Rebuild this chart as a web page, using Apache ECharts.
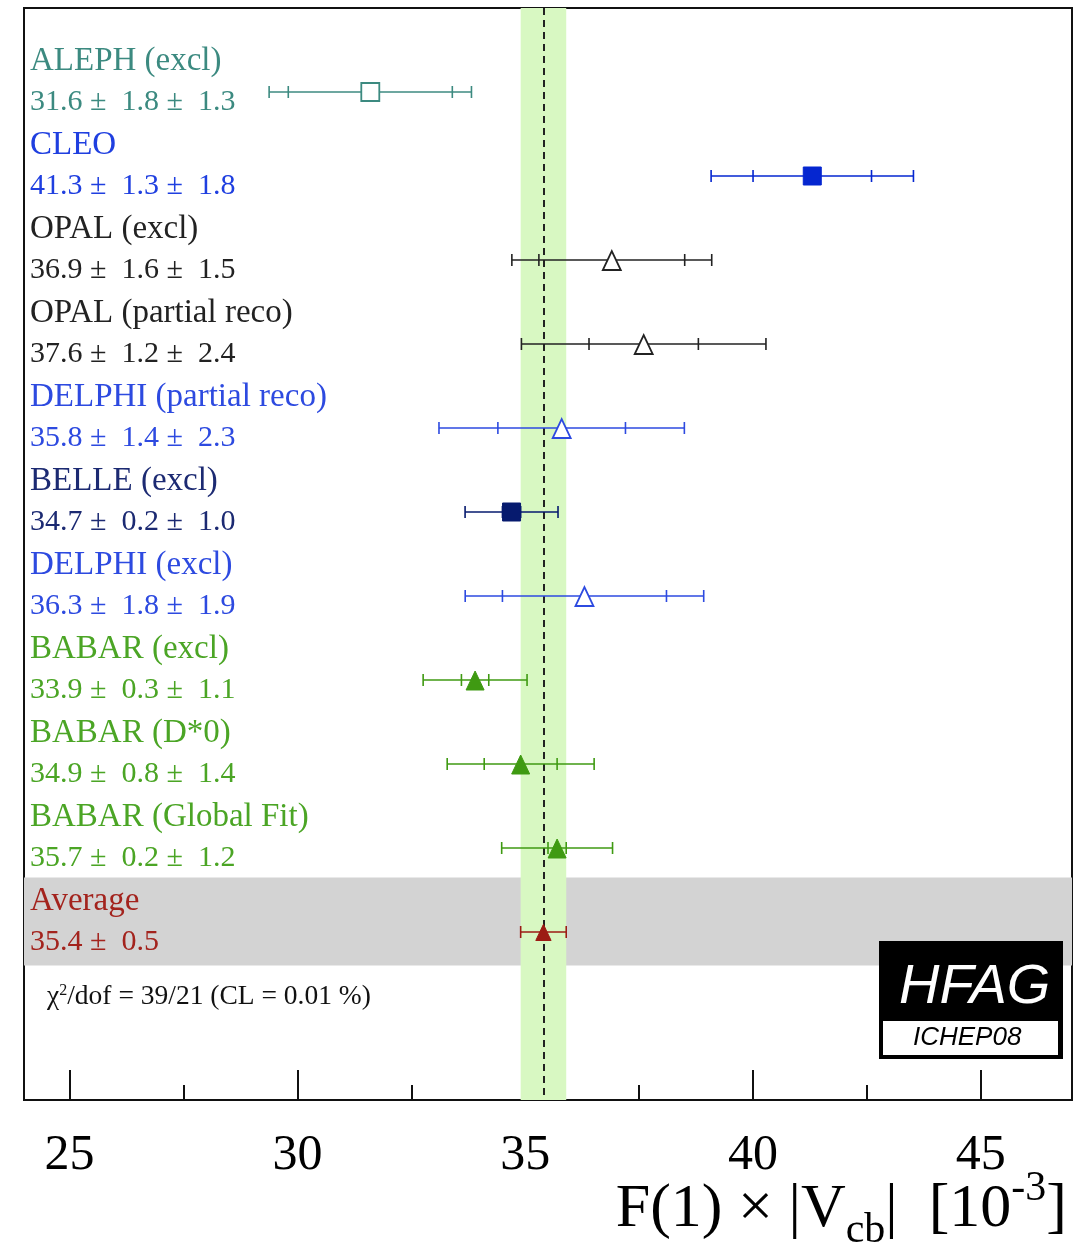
<!DOCTYPE html>
<html lang="en">
<head>
    <meta charset="UTF-8">
    <title>F(1)|Vcb|</title>
    <script src="https://cdn.jsdelivr.net/npm/echarts@6.0.0/dist/echarts.min.js"></script>
</head>
<body style="margin:0">
<div id="main" style="width: 1083px;height:1250px;"></div>
<script type="text/javascript">
    // measurements, top to bottom
    const names = ["ALEPH (excl)", "CLEO", "OPAL (excl)", "OPAL (partial reco)", "DELPHI (partial reco)",
        "BELLE (excl)", "DELPHI (excl)", "BABAR (excl)", "BABAR (D*0)", "BABAR (Global Fit)", "Average"];
    const values = [31.6, 41.3, 36.9, 37.6, 35.8, 34.7, 36.3, 33.9, 34.9, 35.7, 35.4];
    const statErr = [1.8, 1.3, 1.6, 1.2, 1.4, 0.2, 1.8, 0.3, 0.8, 0.2, 0.5];
    const systErr = [1.3, 1.8, 1.5, 2.4, 2.3, 1.0, 1.9, 1.1, 1.4, 1.2, 0];
    const xTicks = [25, 30, 35, 40, 45];
    const xMinorTicks = [27.5, 32.5, 37.5, 42.5];

    // styles per row
    const textColors = ["#3c8a80", "#1f3fe0", "#222222", "#222222", "#2d4ae0", "#1c2a72",
        "#2d4ae0", "#4ba525", "#4ba525", "#4ba525", "#a3231d"];
    const markColors = ["#3c8a80", "#0526d0", "#222222", "#222222", "#2d4ae0", "#061a6e",
        "#2d4ae0", "#3f9a12", "#3f9a12", "#3f9a12", "#9c1c14"];
    const markKinds = ["sqOpen", "sq", "triOpen", "triOpen", "triOpen", "sq", "triOpen", "tri", "tri", "tri", "tri"];

    const avgIdx = names.length - 1;
    const avg = values[avgIdx], avgErr = statErr[avgIdx];

    const rows = values.map(function (v, i) {
        return [v, i, statErr[i], systErr[i]];
    });

    function labelText(i) {
        if (i === avgIdx) return values[i].toFixed(1) + " \u00b1  " + statErr[i].toFixed(1);
        return values[i].toFixed(1) + " \u00b1  " + statErr[i].toFixed(1) + " \u00b1  " + systErr[i].toFixed(1);
    }

    function renderRow(params, api) {
        const i = params.dataIndex;
        const v = api.value(0), row = api.value(1), st = api.value(2), sy = api.value(3);
        const tot = Math.sqrt(st * st + sy * sy);
        const c = api.coord([v, row]);
        const lo = api.coord([v - tot, row]);
        const hi = api.coord([v + tot, row]);
        const col = markColors[i];
        const ls = {stroke: col, lineWidth: 1.6};
        const kids = [];
        kids.push({type: "line", shape: {x1: lo[0], y1: c[1], x2: hi[0], y2: c[1]}, style: ls});
        [lo[0], hi[0]].forEach(function (x) {
            kids.push({type: "line", shape: {x1: x, y1: c[1] - 6, x2: x, y2: c[1] + 6}, style: ls});
        });
        if (sy > 0) {
            [api.coord([v - st, row])[0], api.coord([v + st, row])[0]].forEach(function (x) {
                kids.push({type: "line", shape: {x1: x, y1: c[1] - 6, x2: x, y2: c[1] + 6}, style: ls});
            });
        }
        const k = markKinds[i];
        const open = k.indexOf("Open") > 0;
        const mstyle = {fill: open ? "#fff" : col, stroke: col, lineWidth: open ? 1.8 : 1};
        if (k.indexOf("sq") === 0) {
            kids.push({type: "rect", shape: {x: c[0] - 9, y: c[1] - 9, width: 18, height: 18}, style: mstyle});
        } else {
            const s = i === avgIdx ? 0.85 : 1;
            kids.push({type: "polygon", shape: {points: [[c[0] - 9 * s, c[1] + 10 * s], [c[0] + 9 * s, c[1] + 10 * s], [c[0], c[1] - 9 * s]]}, style: mstyle});
        }
        const left = api.coord([24, row])[0] + 6;
        const font = {fontFamily: "Liberation Serif", fill: textColors[i], align: "left", verticalAlign: "middle"};
        kids.push({type: "text", style: Object.assign({x: left, y: c[1] - 31, text: names[i], fontSize: 33}, font)});
        kids.push({type: "text", style: Object.assign({x: left, y: c[1] + 10, text: labelText(i), fontSize: 30}, font)});
        return {type: "group", children: kids};
    }

    const myChart = echarts.init(document.getElementById("main"));
    myChart.setOption({
        animation: false,
        backgroundColor: "#fff",
        grid: {left: 24, right: 11, top: 8, bottom: 150, show: true, borderColor: "#111", borderWidth: 2, backgroundColor: "transparent"},
        xAxis: [
            {
                type: "value", min: 24, max: 47, position: "bottom", splitLine: {show: false},
                axisLine: {show: true, onZero: false, lineStyle: {color: "#111", width: 2}},
                axisTick: {show: true, inside: true, length: 30, customValues: xTicks, lineStyle: {color: "#111", width: 2}},
                axisLabel: {customValues: xTicks, fontFamily: "Liberation Serif", fontSize: 50, color: "#000", margin: 31}
            },
            {
                type: "value", min: 24, max: 47, position: "bottom", offset: 0, splitLine: {show: false},
                axisLine: {show: false, onZero: false}, axisLabel: {show: false},
                axisTick: {show: true, inside: true, length: 15, customValues: xMinorTicks, lineStyle: {color: "#111", width: 2}}
            }
        ],
        yAxis: {type: "value", min: -1, max: 12, inverse: true, show: false, splitLine: {show: false}},
        series: [
            {
                type: "line", data: [], z: 1, silent: true,
                markArea: {silent: true, itemStyle: {color: "#d3d3d3"}, data: [[{yAxis: 9.35}, {yAxis: 10.4}]]}
            },
            {
                type: "line", data: [], z: 2, silent: true,
                markArea: {silent: true, itemStyle: {color: "#d8f8c2"}, data: [[{xAxis: avg - avgErr}, {xAxis: avg + avgErr}]]},
                markLine: {silent: true, symbol: "none", label: {show: false},
                    lineStyle: {color: "#222", width: 2, type: [7, 5]}, data: [{xAxis: avg}]}
            },
            {
                type: "custom", z: 5, renderItem: renderRow, data: rows, clip: false
            }
        ],
        graphic: [
            {
                type: "text", left: 47, top: 983, z: 100,
                style: {
                    text: "\u03c7{s|2}/dof = 39/21 (CL = 0.01 %)",
                    fontFamily: "Liberation Serif", fontSize: 27.5, fill: "#111",
                    rich: {s: {fontFamily: "Liberation Serif", fontSize: 16, verticalAlign: "top", lineHeight: 14}}
                }
            },
            {type: "rect", left: 879, top: 941, z: 100, shape: {width: 184, height: 118}, style: {fill: "#000"}},
            {type: "rect", left: 883, top: 1021, z: 101, shape: {width: 175, height: 34}, style: {fill: "#fff"}},
            {
                type: "text", left: 899, top: 959, z: 102,
                style: {text: "HFAG", fill: "#fff", fontFamily: "Liberation Sans", fontStyle: "italic", fontSize: 56}
            },
            {
                type: "text", left: 913, top: 1025, z: 102,
                style: {text: "ICHEP08", fill: "#000", fontFamily: "Liberation Sans", fontStyle: "italic", fontSize: 26}
            },
            {
                type: "text", right: 16, top: 1168, z: 10,
                style: {
                    text: "F(1) \u00d7 |V{b|cb}|  [10{t|-3}]",
                    fontFamily: "Liberation Serif", fontSize: 62, fill: "#000", lineHeight: 84,
                    rich: {
                        b: {fontFamily: "Liberation Serif", fontSize: 42, lineHeight: 26, verticalAlign: "bottom"},
                        t: {fontFamily: "Liberation Serif", fontSize: 42, lineHeight: 26, verticalAlign: "top"}
                    }
                }
            }
        ]
    });
</script>
</body>
</html>
